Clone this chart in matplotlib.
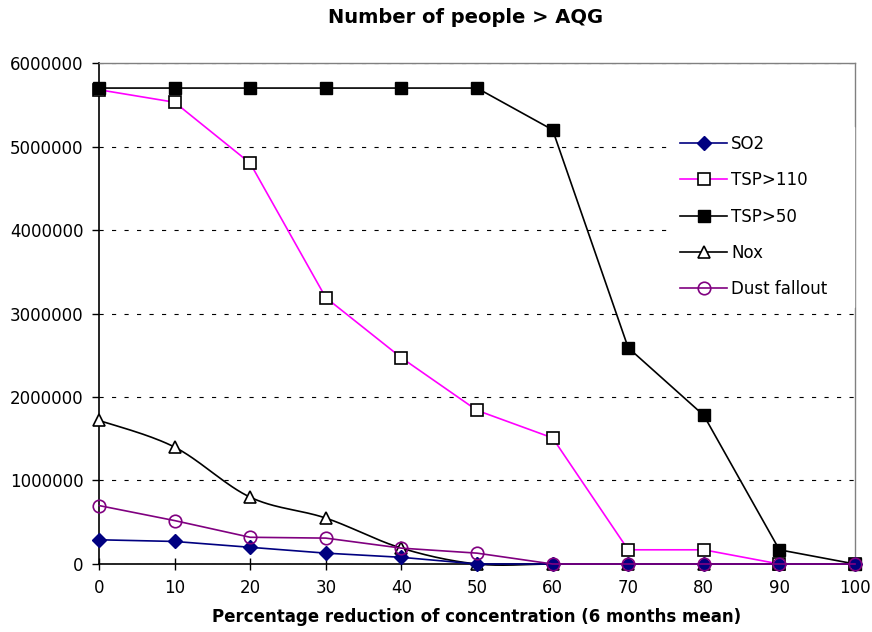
import numpy as np
import matplotlib.pyplot as plt
from matplotlib.lines import Line2D
from matplotlib.ticker import FuncFormatter

plt.rcParams['font.family'] = ['DejaVu Sans']
plt.rcParams['lines.scale_dashes'] = False

reduction = [0, 10, 20, 30, 40, 50, 60, 70, 80, 90, 100]
so2 = [290000, 270000, 200000, 130000, 80000, 0, 0, 0, 0, 0, 0]
tsp110 = [5680000, 5530000, 4800000, 3190000, 2470000, 1840000, 1510000, 170000, 170000, 0, 0]
tsp50 = [5700000, 5700000, 5700000, 5700000, 5700000, 5700000, 5200000, 2590000, 1780000, 170000, 0]
nox = [1720000, 1400000, 800000, 550000, 190000, 0, 0, 0, 0, 0, 0]
dust = [700000, 520000, 320000, 310000, 190000, 130000, 0, 0, 0, 0, 0]


def smooth(x, y, n=30):
    'Catmull-Rom curve through the points, like a smoothed spreadsheet line.'
    x = np.asarray(x, float)
    y = np.asarray(y, float)
    px = np.concatenate([[x[0]], x, [x[-1]]])
    py = np.concatenate([[y[0]], y, [y[-1]]])
    xs, ys = [], []
    t = np.linspace(0, 1, n)
    for i in range(1, len(px) - 2):
        for p, out in ((px, xs), (py, ys)):
            p0, p1, p2, p3 = p[i - 1], p[i], p[i + 1], p[i + 2]
            out.extend(0.5 * ((2 * p1) + (-p0 + p2) * t
                              + (2 * p0 - 5 * p1 + 4 * p2 - p3) * t ** 2
                              + (-p0 + 3 * p1 - 3 * p2 + p3) * t ** 3))
    return np.array(xs), np.array(ys)


fig = plt.figure(figsize=(8.72, 6.32), dpi=100)
ax = fig.add_axes([0.1135, 0.1076, 0.867, 0.7927])

navy = '#000080'
magenta = '#FF00FF'
purple = '#800080'

ax.plot(reduction, tsp110, color=magenta, lw=1.2, marker='s', ms=8,
        mfc='white', mec='black', mew=1.2, zorder=3, clip_on=False)
ax.plot(reduction, tsp50, color='black', lw=1.2, marker='s', ms=8,
        mfc='black', mec='black', zorder=3, clip_on=False)
sx, sy = smooth(reduction, nox)
ax.plot(sx, sy, color='black', lw=1.2, zorder=3, clip_on=False)
ax.plot(reduction, nox, ls='none', marker='^', ms=9, mfc='white',
        mec='black', mew=1.2, zorder=4, clip_on=False)
ax.plot(reduction, so2, color=navy, lw=1.2, marker='D', ms=7,
        mfc=navy, mec=navy, zorder=5, clip_on=False)
ax.plot(reduction, dust, color=purple, lw=1.2, marker='o', ms=9,
        mfc='none', mec=purple, mew=1.2, zorder=6, clip_on=False)

ax.set_xlim(0, 100)
ax.set_ylim(0, 6000000)
ax.set_xticks(reduction)
ax.set_yticks(np.arange(0, 6000001, 1000000))
ax.yaxis.set_major_formatter(FuncFormatter(lambda v, p: f'{int(v)}'))
ax.tick_params(axis='both', direction='out', length=5, width=1,
               labelsize=12, pad=6)
ax.tick_params(axis='x', direction='inout', length=8, pad=7)
ax.yaxis.grid(True, color='black', lw=0.8, ls=(0, (3, 6)))
ax.set_axisbelow(True)
for side in ('top', 'right'):
    ax.spines[side].set_color('#808080')
    ax.spines[side].set_linewidth(1)
for side in ('left', 'bottom'):
    ax.spines[side].set_linewidth(1.2)
ax.spines['bottom'].set_zorder(2)

ax.set_xlabel('Percentage reduction of concentration (6 months mean)',
              fontsize=12, fontweight='bold', labelpad=8)
fig.suptitle('Number of people > AQG', fontsize=14, fontweight='bold',
             x=0.534, y=0.987)

handles = [
    Line2D([], [], color=navy, lw=1.2, marker='D', ms=7, mfc=navy, mec=navy),
    Line2D([], [], color=magenta, lw=1.2, marker='s', ms=8, mfc='white', mec='black', mew=1.2),
    Line2D([], [], color='black', lw=1.2, marker='s', ms=8, mfc='black', mec='black'),
    Line2D([], [], color='black', lw=1.2, marker='^', ms=9, mfc='white', mec='black', mew=1.2),
    Line2D([], [], color=purple, lw=1.2, marker='o', ms=9, mfc='none', mec=purple, mew=1.2),
]
labels = ['SO2', 'TSP>110', 'TSP>50', 'Nox', 'Dust fallout']
# legend box is widened so its white face hides the right frame behind it
leg = fig.legend(handles, labels, loc='upper left',
                 bbox_to_anchor=(0.761, 0.813, 0.228, 0), mode='expand',
                 frameon=True, facecolor='white', edgecolor='white', framealpha=1,
                 fontsize=12, labelspacing=1.1, handlelength=2.8, handletextpad=0.25,
                 borderpad=0.5, fancybox=False)
leg.set_zorder(10)

fig.savefig('out.png', dpi=100)
